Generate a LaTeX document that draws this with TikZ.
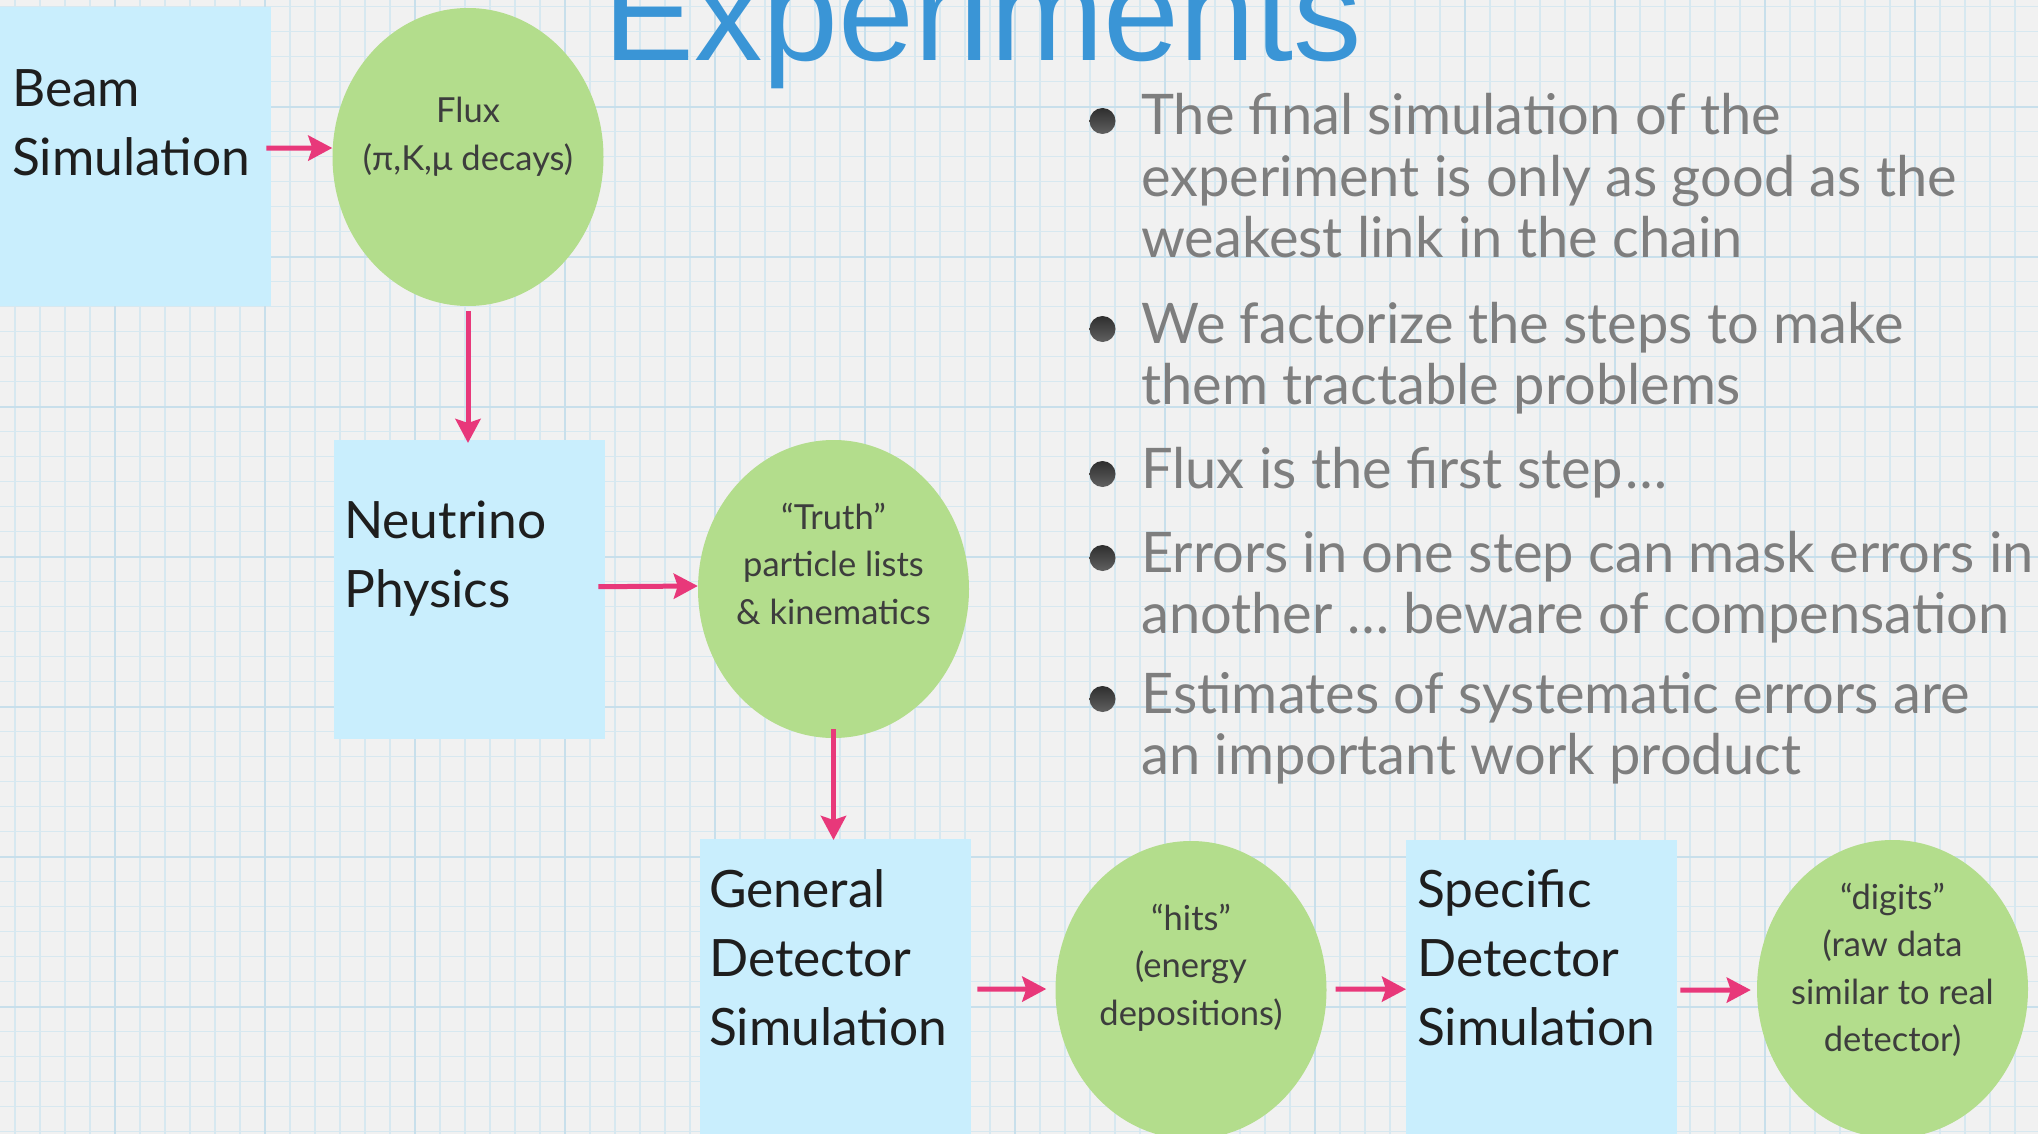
\documentclass[tikz,border=0pt]{standalone}
\usepackage{fontspec}
\setmainfont{Lato}
\newfontfamily\bulletfont{Lato}
\newfontfamily\boxfont{Lato}
\newfontfamily\ellfont{Lato}
\newfontfamily\titlefont{Liberation Sans}
\usetikzlibrary{arrows.meta,shapes.geometric,calc}
\definecolor{paper}{HTML}{F1F1F1}
\definecolor{gridmin}{HTML}{D7E8F0}
\definecolor{gridmaj}{HTML}{C8DFEB}
\definecolor{boxcyan}{HTML}{C9EEFD}
\definecolor{ellgreen}{HTML}{B3DD8C}
\definecolor{arrowpink}{HTML}{E8387A}
\definecolor{titleblue}{HTML}{3A95D6}
\definecolor{bullettext}{HTML}{7E7E7E}
\definecolor{boxtext}{HTML}{1E1E1E}
\definecolor{elltext}{HTML}{3D3D3D}
\tikzset{
  procbox/.style={rectangle, fill=boxcyan, draw=none, inner sep=0pt,
    minimum width=271pt, minimum height=299pt, anchor=north west},
  dataell/.style={ellipse, fill=ellgreen, draw=none, inner sep=0pt,
    minimum width=271pt, minimum height=298pt},
  flow/.style={draw=arrowpink, line width=5pt,
    -{Stealth[length=24pt,width=25pt,inset=4pt]}},
  boxlabel/.style={inner sep=0pt, anchor=base west, text=boxtext,
    font=\boxfont\fontsize{51.5}{69}\selectfont},
  elllabel/.style={inner sep=0pt, anchor=base, text=elltext,
    font=\ellfont\fontsize{34.5}{47.5}\selectfont},
  bullettxt/.style={inner sep=0pt, anchor=base west, text=bullettext,
    font=\bulletfont\fontsize{56}{61.5}\selectfont},
  bulletdot/.style={circle, inner sep=0pt, minimum size=26pt, draw=none,
    top color=black!82, bottom color=black!62},
  gmin/.style={draw=gridmin, line width=1.4pt},
  gmaj/.style={draw=gridmaj, line width=2.2pt}
}
\begin{document}
\begin{tikzpicture}[x=1pt, y=-1pt]
\useasboundingbox (0,0) rectangle (2038,1134);
\fill[paper] (0,0) rectangle (2038,1134);
% graph paper grid
\foreach \gx in {15,40,...,2040} \draw[gmin] (\gx,0) -- (\gx,1134);
\foreach \gy in {6.7,31.7,...,1140} \draw[gmin] (0,\gy) -- (2038,\gy);
\foreach \gx in {115,265,...,2040} \draw[gmaj] (\gx,0) -- (\gx,1134);
\foreach \gy in {106.7,256.7,...,1140} \draw[gmaj] (0,\gy) -- (2038,\gy);

% title
\node[inner sep=0pt, anchor=base west, text=titleblue,
  font=\titlefont\fontsize{136.5}{136.5}\selectfont] (title) at (603,61) {Experiments};

% process boxes
\node[procbox] (beam) at (0,7) {};
\node[procbox] (neutrino) at (334,440) {};
\node[procbox] (gds) at (700,839) {};
\node[procbox] (sds) at (1406,840) {};

% data ellipses
\node[dataell] (flux) at (468,157) {};
\node[dataell] (truth) at (833.5,589) {};
\node[dataell] (hits) at (1191,990) {};
\node[dataell] (digits) at (1892.5,989) {};

% box labels
\node[boxlabel] (beamtxt) at (12,107) {\begin{tabular}[t]{@{}l@{}}Beam\\Simulation\end{tabular}};
\node[boxlabel] (neutrinotxt) at (344,538) {\begin{tabular}[t]{@{}l@{}}Neutrino\\Physics\end{tabular}};
\node[boxlabel] (gdstxt) at (709,907) {\begin{tabular}[t]{@{}l@{}}General\\Detector\\Simulation\end{tabular}};
\node[boxlabel] (sdstxt) at (1417,907) {\begin{tabular}[t]{@{}l@{}}Specific\\Detector\\Simulation\end{tabular}};

% ellipse labels
\node[elllabel] (fluxtxt) at (468,123) {\begin{tabular}[t]{@{}c@{}}Flux\\(π,K,μ decays)\end{tabular}};
\node[elllabel] (truthtxt) at (833.5,529) {\begin{tabular}[t]{@{}c@{}}“Truth”\\particle lists\\\& kinematics\end{tabular}};
\node[elllabel] (hitstxt) at (1191,930) {\begin{tabular}[t]{@{}c@{}}“hits”\\(energy\\depositions)\end{tabular}};
\node[elllabel] (digitstxt) at (1892.5,909) {\begin{tabular}[t]{@{}c@{}}“digits”\\(raw data\\similar to real\\detector)\end{tabular}};

% connectors
\draw[flow] ($(beam.east)+(-5,-8.5)$) -- ($(flux.west)+(0,-9)$);
\draw[flow] ($(flux.south)+(0,5)$) -- ($(flux.south |- neutrino.north)+(0,3)$);
\draw[flow] ($(neutrino.east)+(-7,-3)$) -- ($(truth.west)+(0,-3)$);
\draw[flow] ($(truth.south)+(0,-9)$) -- ($(truth.south |- gds.north)+(0,1)$);
\draw[flow] ($(gds.east)+(6,0.5)$) -- ($(hits.west)+(-9,-1)$);
\draw[flow] ($(hits.east)+(9,-1)$) -- ($(sds.west)+(0,-0.5)$);
\draw[flow] ($(sds.east)+(3,0.5)$) -- ($(digits.west)+(-6,1)$);

% bullets
\node[bulletdot] (d1) at (1102.5,121) {};
\node[bulletdot] (d2) at (1102.5,329) {};
\node[bulletdot] (d3) at (1102.5,474) {};
\node[bulletdot] (d4) at (1102.5,558) {};
\node[bulletdot] (d5) at (1102.5,699) {};
\node[bullettxt] (t1) at (1141,135) {\begin{tabular}[t]{@{}l@{}}The final simulation of the\\experiment is only as good as the\\weakest link in the chain\end{tabular}};
\node[bullettxt] (t2) at (1141,343) {\begin{tabular}[t]{@{}l@{}}We factorize the steps to make\\them tractable problems\end{tabular}};
\node[bullettxt] (t3) at (1141,488) {Flux is the first step\kern3pt…};
\node[bullettxt] (t4) at (1141,572) {\begin{tabular}[t]{@{}l@{}}Errors in one step can mask errors in\\another … beware of compensation\end{tabular}};
\node[bullettxt] (t5) at (1141,713) {\begin{tabular}[t]{@{}l@{}}Estimates of systematic errors are\\an important work product\end{tabular}};
\end{tikzpicture}
\end{document}
